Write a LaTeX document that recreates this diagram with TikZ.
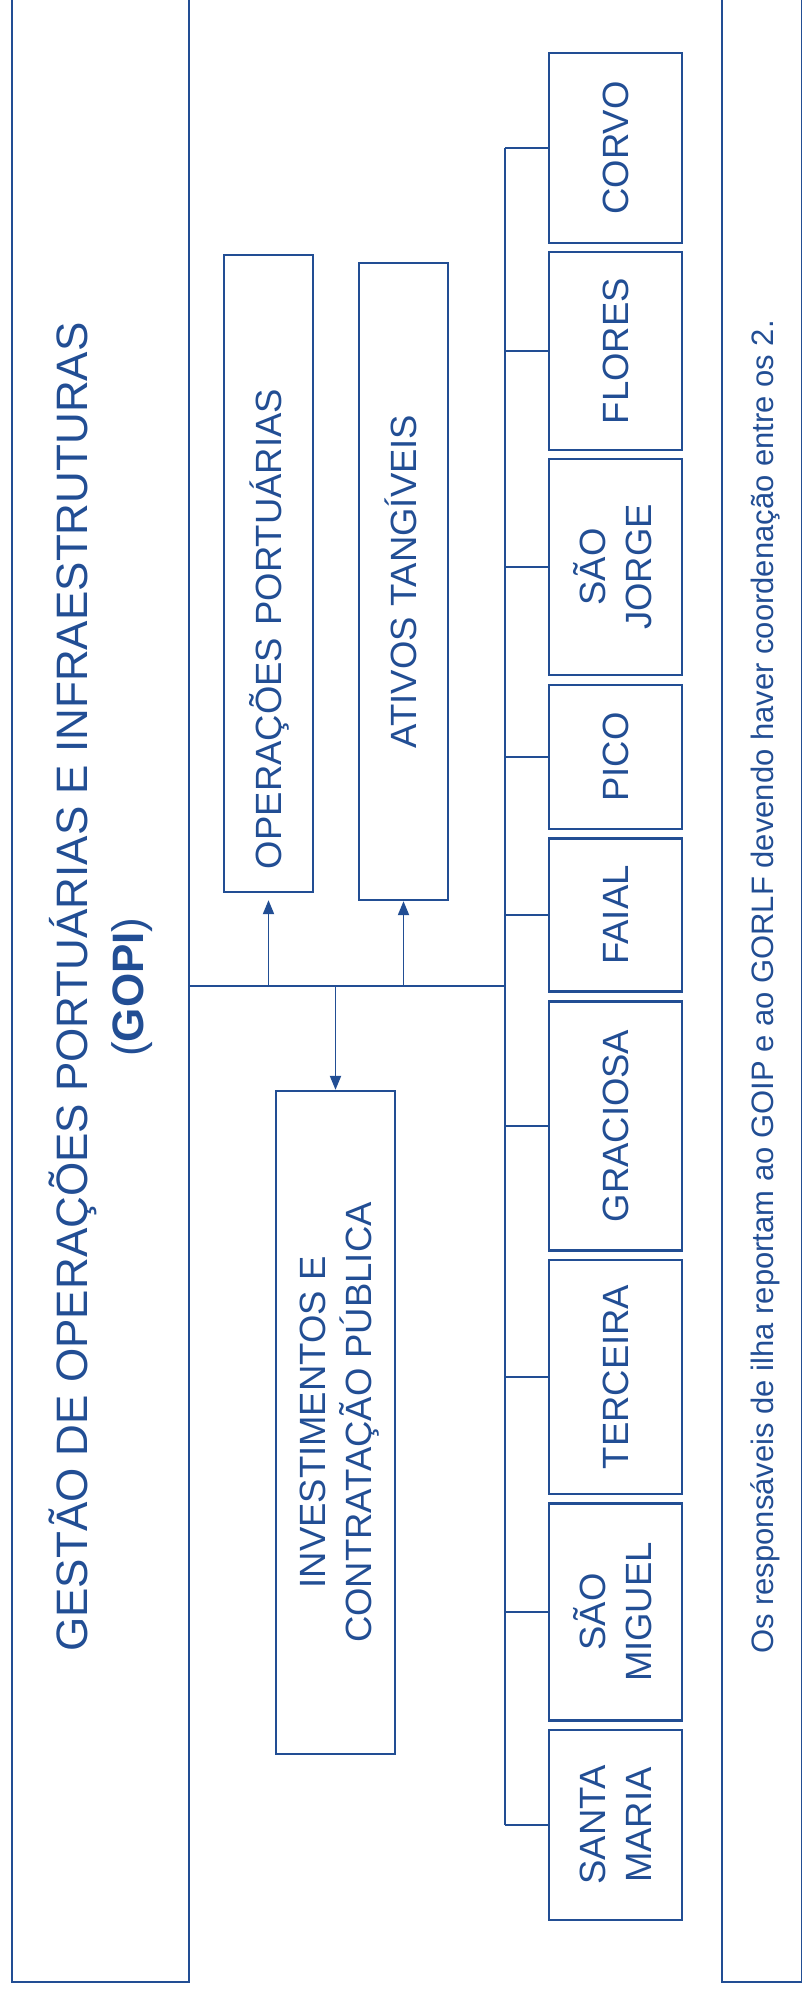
\documentclass[tikz,border=0pt]{standalone}
\usepackage{fontspec}
\setmainfont{Liberation Sans}
\usetikzlibrary{arrows.meta}
\definecolor{portblue}{RGB}{34,78,148}

\begin{document}
\begin{tikzpicture}[x=1pt,y=-1pt,
            color=portblue,
            box/.style = {draw,line width=2.3pt,rotate=90,align=center,
                inner sep=0pt,font=\fontsize{36.5}{46}\selectfont,
                text height=33pt,text depth=7.7pt},
            twolines/.style = {text height=79pt},
            island/.style = {box,minimum width=#1,minimum height=133pt},
            link/.style = {line width=1.9pt},
            arrow/.style = {link,-{Triangle[length=14pt,width=11pt]}}]
            \useasboundingbox (0,0) rectangle (801,1995);
            % outer frames
            \node[box,minimum width=1990pt,minimum height=177pt,
                font=\fontsize{44}{56}\selectfont,
                text height=95.8pt,text depth=9.3pt]
                (gopi) at (100.5,987)
                {GESTÃO DE OPERAÇÕES PORTUÁRIAS E INFRAESTRUTURAS\\(\textbf{GOPI})};
            \node[box,minimum width=1990pt,minimum height=80.6pt,
                font=\fontsize{31}{36}\selectfont,
                text height=28pt,text depth=6.6pt]
                (note) at (762.3,987)
                {Os responsáveis de ilha reportam ao GOIP e ao GORLF devendo haver coordenação entre os 2.};
            % central units
            \node[box,text width=591pt,align=left,inner xsep=23pt,
                minimum height=89pt] (ops) at (268.5,573.5) {OPERAÇÕES PORTUÁRIAS};
            \node[box,minimum width=637pt,minimum height=89pt]
                (assets) at (403.5,581.5) {ATIVOS TANGÍVEIS};
            \node[box,twolines,minimum width=663pt,minimum height=119pt]
                (invest) at (335.5,1422.5) {INVESTIMENTOS E\\CONTRATAÇÃO PÚBLICA};
            % islands
            \node[island=190pt] (corvo) at (615.5,148) {CORVO};
            \node[island=198pt] (flores) at (615.5,351) {FLORES};
            \node[island=216pt,twolines] (sjorge) at (615.5,567) {SÃO\\JORGE};
            \node[island=144pt] (pico) at (615.5,757) {PICO};
            \node[island=153pt] (faial) at (615.5,915) {FAIAL};
            \node[island=249pt] (graciosa) at (615.5,1126) {GRACIOSA};
            \node[island=234pt] (terceira) at (615.5,1377) {TERCEIRA};
            \node[island=217pt,twolines] (smiguel) at (615.5,1612) {SÃO\\MIGUEL};
            \node[island=190pt,twolines] (smaria) at (615.5,1825) {SANTA\\MARIA};
            % connectors
            \coordinate (bus) at (505,986);
            \draw[link] (gopi.south |- bus) -- (bus);
            \draw[link] (corvo.north -| bus) -- (smaria.north -| bus);
            \foreach \isle in {corvo,flores,sjorge,pico,faial,graciosa,terceira,smiguel,smaria}
                \draw[link] (\isle.north -| bus) -- (\isle.north);
            \draw[arrow,shorten >=7pt] (ops.west |- bus) -- (ops.west);
            \draw[arrow] (assets.west |- bus) -- (assets.west);
            \draw[arrow] (invest.east |- bus) -- (invest.east);
\end{tikzpicture}
\end{document}
